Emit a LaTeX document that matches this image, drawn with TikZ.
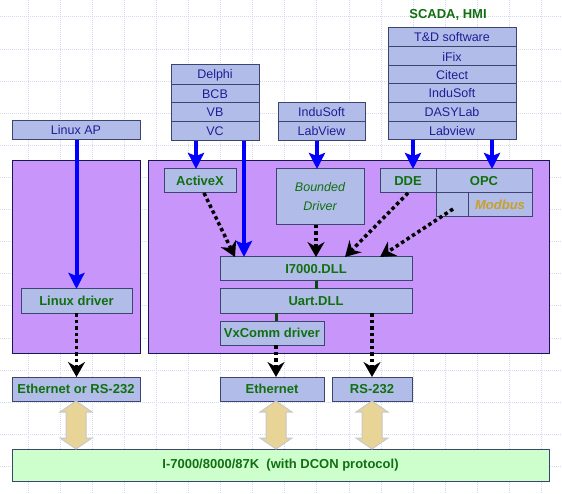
\documentclass[tikz,border=0pt]{standalone}
\usepackage{fontspec}
\setmainfont{Liberation Sans}
\usetikzlibrary{arrows.meta,calc}
\definecolor{boxfill}{RGB}{178,188,232}
\definecolor{boxline}{RGB}{60,68,112}
\definecolor{panelfill}{RGB}{200,150,250}
\definecolor{panelline}{RGB}{24,24,80}
\definecolor{txtblue}{RGB}{30,30,150}
\definecolor{txtgreen}{RGB}{16,112,16}
\definecolor{gold}{RGB}{200,160,40}
\definecolor{arrblue}{RGB}{0,0,255}
\definecolor{linkgreen}{RGB}{12,72,12}
\definecolor{tanfill}{RGB}{232,212,150}
\definecolor{tanline}{RGB}{200,200,200}
\definecolor{basefill}{RGB}{204,255,204}
\definecolor{gridc}{RGB}{214,216,238}
\newcommand\mydbl[2]{%
  \path[dbl] let \p1=#1, \p2=#2 in
    (\x1,\y1) -- (\x1+16pt,\y1-11pt) -- (\x1+10pt,\y1-11pt) -- (\x1+10pt,\y2+11pt)
    -- (\x1+16pt,\y2+11pt) -- (\x1,\y2) -- (\x1-16pt,\y2+11pt) -- (\x1-10pt,\y2+11pt)
    -- (\x1-10pt,\y1-11pt) -- (\x1-16pt,\y1-11pt) -- cycle;}
\begin{document}
\begin{tikzpicture}[x=1pt,y=-1pt,
  wh/.style 2 args={minimum width=#1pt, minimum height=#2pt},
  box/.style={draw=boxline, fill=boxfill, line width=1pt, inner sep=0pt, outer sep=0pt},
  swbox/.style={box, text=txtblue, font=\fontsize{12.5}{14}\selectfont},
  gbox/.style={box, text=txtgreen, font=\fontsize{13}{15}\selectfont\bfseries},
  panel/.style={draw=panelline, fill=panelfill, line width=1pt, inner sep=0pt, outer sep=0pt},
  bluearr/.style={draw=arrblue, line width=4pt, -{Stealth[length=16pt,width=16pt,inset=3pt]}},
  dotarr/.style={draw=black, line width=3.5pt, dash pattern=on 3.5pt off 3pt, -{Stealth[length=15pt,width=17pt,inset=5pt]}},
  link/.style={draw=linkgreen, line width=3pt},
  dbl/.style={fill=tanfill, draw=tanline, line width=1pt},
  gridline/.style={draw=gridc, line width=1pt, dash pattern=on 1pt off 1pt},
]
\useasboundingbox[fill=white] (0,0) rectangle (562,494);
% background grid
\foreach \i in {0,...,16} \draw[gridline] ({28+32.1*\i},0) -- ({28+32.1*\i},494);
\foreach \j in {0,...,14} \draw[gridline] (0,{17+32.1*\j}) -- (562,{17+32.1*\j});

% panels
\node[panel, wh={128}{192}] (leftpanel) at (76,257) {};
\node[panel, wh={401}{192}] (rightpanel) at (348.5,257) {};

% left column
\node[swbox, wh={128}{19}] (linuxap) at (76,130.5) {Linux AP};
\node[gbox, wh={111}{24}] (linuxdrv) at (76.5,301) {Linux driver};
\node[gbox, wh={128}{24}] (ethrs) at (76,389) {Ethernet or RS-232};

% Delphi stack
\node[swbox, wh={88}{20}] (delphi) at (215,75) {Delphi};
\node[swbox, wh={88}{18}] (bcb) at (215,94) {BCB};
\node[swbox, wh={88}{19}] (vb) at (215,112.5) {VB};
\node[swbox, wh={88}{19}] (vc) at (215,131.5) {VC};

% InduSoft / LabView stack
\node[swbox, wh={87}{19}] (indusofta) at (321.5,112.5) {InduSoft};
\node[swbox, wh={87}{19}] (labviewa) at (321.5,131.5) {LabView};

% SCADA stack
\node[text=txtgreen, font=\fontsize{13}{15}\selectfont\bfseries, inner sep=0pt] (scada) at (448,15) {SCADA, HMI};
\node[swbox, wh={128}{19}] (td) at (452,37.5) {T\&D software};
\node[swbox, wh={128}{19}] (ifix) at (452,56.5) {iFix};
\node[swbox, wh={128}{18}] (citect) at (452,75) {Citect};
\node[swbox, wh={128}{19}] (indusoftb) at (452,93.5) {InduSoft};
\node[swbox, wh={128}{19}] (dasylab) at (452,112.5) {DASYLab};
\node[swbox, wh={128}{18}] (labviewb) at (452,131) {Labview};

% inside right panel
\node[gbox, wh={72}{24}] (activex) at (200,181) {ActiveX};
\node[box, wh={88}{56}, text=txtgreen, align=center, font=\fontsize{12.5}{20}\selectfont\itshape] (bounded) at (320,197) {Bounded\\[-1pt]Driver};
\node[gbox, wh={56}{24}] (dde) at (408,181) {DDE};
\node[gbox, wh={96}{24}] (opc) at (484,181) {OPC};
\node[box, wh={32}{24}] (opcempty) at (452,205) {};
\node[box, wh={64}{24}, text=gold, font=\fontsize{13}{15}\selectfont\bfseries\itshape] (modbus) at (500,205) {Modbus};
\node[gbox, wh={192}{24}] (i7000) at (316,269) {I7000.DLL};
\node[gbox, wh={192}{24}] (uart) at (316,301) {Uart.DLL};
\node[gbox, wh={104}{24}] (vxcomm) at (272,333) {VxComm driver};

% ports
\node[gbox, wh={104}{24}] (eth) at (272,389) {Ethernet};
\node[gbox, wh={80}{24}] (rs232) at (372,389) {RS-232};

% base
\node[gbox, wh={537}{32}, fill=basefill, draw=boxline] (base) at (280.5,465) {I-7000/8000/87K\ \ (with DCON protocol)};

% blue arrows
\draw[bluearr] (linuxdrv.north |- linuxap.south) -- (linuxdrv.north);
\draw[bluearr] ($(activex.north |- vc.south)+(-4,0)$) -- ($(activex.north)+(-4,0)$);
\draw[bluearr] ($(vc.south east)+(-15,0)$) -- ($(vc.south east |- i7000.north)+(-15,0)$);
\draw[bluearr] ($(bounded.north |- labviewa.south)+(-3,0)$) -- ($(bounded.north)+(-3,0)$);
\draw[bluearr] ($(dde.north |- labviewb.south)+(5,0)$) -- ($(dde.north)+(5,0)$);
\draw[bluearr] ($(opc.north |- labviewb.south)+(8,0)$) -- ($(opc.north)+(8,0)$);

% dotted arrows
\draw[dotarr] (linuxdrv.south) -- (linuxdrv.south |- ethrs.north);
\draw[dotarr] ($(activex.south)+(4,0)$) -- ($(i7000.north west)+(15,0)$);
\draw[dotarr] (bounded.south -| i7000.north) -- (i7000.north);
\draw[dotarr] (dde.south) -- ($(i7000.north west)+(125,0)$);
\draw[dotarr] ($(opcempty.center)+(1,4)$) -- ($(i7000.north east)+(-32,0)$);
\draw[dotarr] ($(vxcomm.south)+(4,0)$) -- ($(eth.north)+(4,0)$);
\draw[dotarr] (rs232.north |- uart.south) -- (rs232.north);

% solid links
\draw[link] (i7000.south) -- (uart.north);
\draw[link] ($(vxcomm.north |- uart.south)+(4,0)$) -- ($(vxcomm.north)+(4,0)$);

% double arrows
\mydbl{(ethrs.south)}{(base.north)}
\mydbl{($(eth.south)+(4,0)$)}{(base.north)}
\mydbl{(rs232.south)}{(base.north)}
\end{tikzpicture}
\end{document}
